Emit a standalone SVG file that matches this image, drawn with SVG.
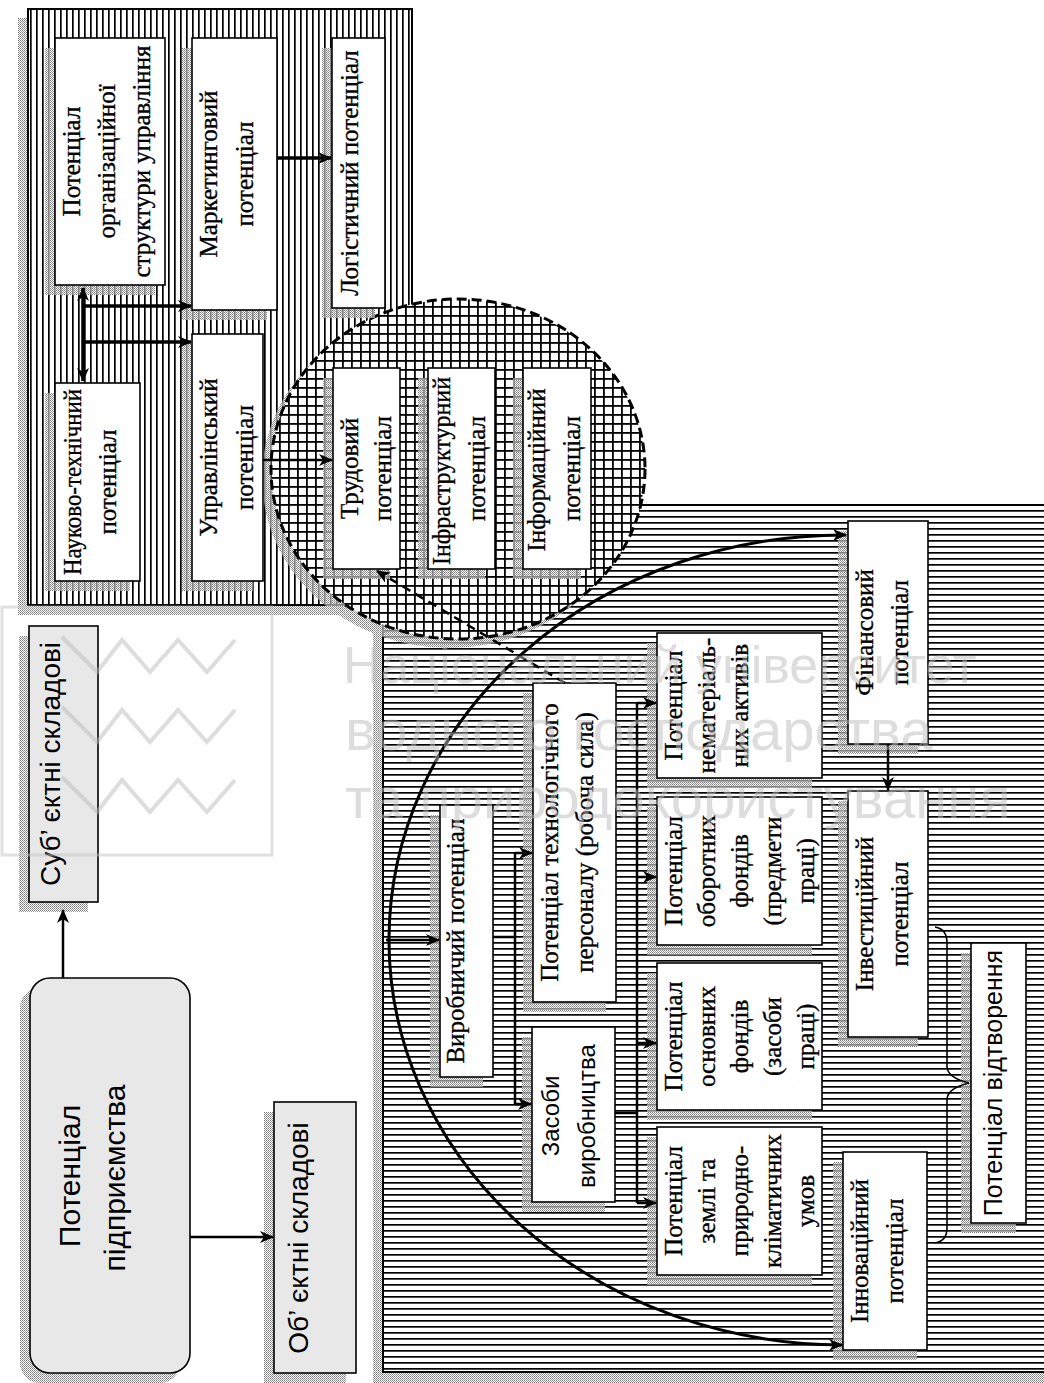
<svg xmlns="http://www.w3.org/2000/svg" width="1044" height="1383" viewBox="0 0 1044 1383">
  <style>
    .box { fill: #fff; stroke: #000; stroke-width: 1.6; }
    .gbox { fill: #e8e8e8; stroke: #000; stroke-width: 1.6; }
    .sh { fill: url(#stip); stroke: none; }
    .t { font-family: "Liberation Serif", "Times New Roman", serif; font-size: 25px; text-anchor: middle; fill: #000; stroke: #000; stroke-width: 0.35; }
    .s { font-family: "Liberation Sans", Arial, sans-serif; font-size: 28px; text-anchor: middle; fill: #000; }
    .s2 { font-family: "Liberation Sans", Arial, sans-serif; font-size: 24px; text-anchor: middle; fill: #000; }
    .ln { fill: none; stroke: #000; stroke-width: 2.5; }
    .thick { stroke-width: 3.5; }
    .arr { marker-end: url(#ah); }
    .wm { font-family: "Liberation Sans", Arial, sans-serif; font-size: 58px; fill: #bdbdbd; }
  </style>
  <defs>
    <pattern id="vh" width="6" height="6" patternUnits="userSpaceOnUse">
      <rect width="6" height="6" fill="#fff"/>
      <rect x="0" width="1.7" height="6" fill="#000"/>
    </pattern>
    <pattern id="hh" width="6" height="6" patternUnits="userSpaceOnUse">
      <rect width="6" height="6" fill="#fff"/>
      <rect y="0" width="6" height="1.7" fill="#000"/>
    </pattern>
    <pattern id="xh" width="9" height="9" patternUnits="userSpaceOnUse">
      <rect width="9" height="9" fill="#fff"/>
      <rect x="0" width="1.8" height="9" fill="#000"/>
      <rect y="0" width="9" height="1.8" fill="#000"/>
    </pattern>
    <pattern id="stip" width="2" height="2" patternUnits="userSpaceOnUse">
      <rect width="2" height="2" fill="#fff" fill-opacity="0.55"/>
      <rect width="1" height="1" fill="#7a7a7a"/>
      <rect x="1" y="1" width="1" height="1" fill="#9a9a9a"/>
    </pattern>
    <marker id="ah" markerUnits="userSpaceOnUse" viewBox="0 0 14 12" markerWidth="14" markerHeight="12" refX="13" refY="6" orient="auto-start-reverse">
      <path d="M0,0 L14,6 L0,12 L4,6 z" fill="#000"/>
    </marker>
  </defs>

  <rect width="1044" height="1383" fill="#fff"/>

  <!-- hatched background panels -->
  <g id="panel-subjective">
    <rect class="sh" x="18" y="18" width="384" height="597"/>
    <rect x="28" y="9" width="384" height="596" fill="url(#vh)" stroke="#000" stroke-width="2"/>
  </g>
  <g id="panel-objective">
    <rect class="sh" x="373" y="515" width="680" height="868"/>
    <rect x="383" y="505" width="670" height="867" fill="url(#hh)" stroke="#000" stroke-width="2"/>
  </g>
  <g id="panel-core">
    <ellipse class="sh" cx="449" cy="478" rx="187" ry="170"/>
    <ellipse cx="458" cy="469" rx="187" ry="170" fill="url(#xh)" stroke="#000" stroke-width="3" stroke-dasharray="10 5"/>
  </g>

  <!-- top level -->
  <g id="subjective">
    <rect class="sh" x="19" y="636" width="69" height="276"/>
    <rect class="gbox" x="29" y="626" width="69" height="276"/>
    <text class="s" transform="translate(60 764) rotate(-90)">Суб’ єктні складові</text>
  </g>
  <g id="enterprise">
    <rect class="sh" x="20" y="988" width="160" height="395" rx="20"/>
    <rect class="gbox" x="30" y="978" width="160" height="395" rx="20"/>
    <text class="s" style="font-size:30px" transform="translate(80 1176) rotate(-90)">Потенціал</text>
    <text class="s" style="font-size:30px" transform="translate(125 1178) rotate(-90)">підприємства</text>
  </g>
  <g id="objective">
    <rect class="sh" x="264" y="1112" width="82" height="272"/>
    <rect class="gbox" x="274" y="1102" width="82" height="271"/>
    <text class="s" transform="translate(308 1238) rotate(-90)">Об’ єктні складові</text>
  </g>

  <!-- subjective components -->
  <g id="org-structure">
    <rect class="sh" x="45" y="48" width="110" height="247"/>
    <rect class="box" x="55" y="38" width="110" height="247"/>
    <text class="t" transform="translate(80 161.5) rotate(-90)">Потенціал</text>
    <text class="t" transform="translate(115 161.5) rotate(-90)">організаційної</text>
    <text class="t" transform="translate(150 161.5) rotate(-90)" textLength="232" lengthAdjust="spacingAndGlyphs">структури управління</text>
  </g>
  <g id="marketing">
    <rect class="sh" x="182" y="48" width="85" height="272"/>
    <rect class="box" x="192" y="38" width="85" height="272"/>
    <text class="t" transform="translate(217 174) rotate(-90)">Маркетинговий</text>
    <text class="t" transform="translate(253 174) rotate(-90)">потенціал</text>
  </g>
  <g id="logistics">
    <rect class="sh" x="322" y="48" width="53" height="270"/>
    <rect class="box" x="332" y="38" width="53" height="270"/>
    <text class="t" transform="translate(358 173) rotate(-90)">Логістичний потенціал</text>
  </g>
  <g id="sci-tech">
    <rect class="sh" x="45" y="393" width="85" height="198"/>
    <rect class="box" x="55" y="383" width="85" height="198"/>
    <text class="t" transform="translate(81 482) rotate(-90)" textLength="186" lengthAdjust="spacingAndGlyphs">Науково-технічний</text>
    <text class="t" transform="translate(116 482) rotate(-90)">потенціал</text>
  </g>
  <g id="management">
    <rect class="sh" x="182" y="344" width="71" height="247"/>
    <rect class="box" x="192" y="334" width="71" height="247"/>
    <text class="t" transform="translate(217 457.5) rotate(-90)">Управлінський</text>
    <text class="t" transform="translate(253 457.5) rotate(-90)">потенціал</text>
  </g>
  <g id="labour">
    <rect class="sh" x="323" y="378" width="67" height="201"/>
    <rect class="box" x="333" y="368" width="67" height="201"/>
    <text class="t" transform="translate(358 468.5) rotate(-90)">Трудовий</text>
    <text class="t" transform="translate(391 468.5) rotate(-90)">потенціал</text>
  </g>
  <g id="infrastructure">
    <rect class="sh" x="418" y="378" width="67" height="201"/>
    <rect class="box" x="428" y="368" width="67" height="201"/>
    <text class="t" transform="translate(450 471) rotate(-90)" textLength="188" lengthAdjust="spacingAndGlyphs">Інфраструктурний</text>
    <text class="t" transform="translate(485 468.5) rotate(-90)">потенціал</text>
  </g>
  <g id="information">
    <rect class="sh" x="513" y="378" width="68" height="201"/>
    <rect class="box" x="523" y="368" width="68" height="201"/>
    <text class="t" transform="translate(545 470) rotate(-90)">Інформаційний</text>
    <text class="t" transform="translate(580 468.5) rotate(-90)">потенціал</text>
  </g>

  <!-- objective components -->
  <g id="production">
    <rect class="sh" x="430" y="815" width="53" height="272"/>
    <rect class="box" x="440" y="805" width="53" height="272"/>
    <text class="t" transform="translate(464 941) rotate(-90)">Виробничий потенціал</text>
  </g>
  <g id="personnel">
    <rect class="sh" x="523" y="693" width="83" height="319"/>
    <rect class="box" x="533" y="683" width="83" height="319"/>
    <text class="t" transform="translate(558 842.5) rotate(-90)">Потенціал технологічного</text>
    <text class="t" transform="translate(593 842.5) rotate(-90)">персоналу (робоча сила)</text>
  </g>
  <g id="means">
    <rect class="sh" x="522" y="1037" width="83" height="175"/>
    <rect class="box" x="532" y="1027" width="83" height="175"/>
    <text class="s2" transform="translate(559 1116) rotate(-90)">Засоби</text>
    <text class="s2" transform="translate(595 1116) rotate(-90)">виробництва</text>
  </g>
  <g id="intangible">
    <rect class="sh" x="647" y="643" width="165" height="145"/>
    <rect class="box" x="657" y="633" width="165" height="145"/>
    <text class="t" transform="translate(682 705.5) rotate(-90)">Потенціал</text>
    <text class="t" transform="translate(715 705.5) rotate(-90)">нематеріаль-</text>
    <text class="t" transform="translate(748 705.5) rotate(-90)">них активів</text>
  </g>
  <g id="working-funds">
    <rect class="sh" x="647" y="807" width="165" height="148"/>
    <rect class="box" x="657" y="797" width="165" height="148"/>
    <text class="t" transform="translate(682 871) rotate(-90)">Потенціал</text>
    <text class="t" transform="translate(715 871) rotate(-90)">оборотних</text>
    <text class="t" transform="translate(748 871) rotate(-90)">фондів</text>
    <text class="t" transform="translate(781 871) rotate(-90)">(предмети</text>
    <text class="t" transform="translate(814 871) rotate(-90)">праці)</text>
  </g>
  <g id="fixed-funds">
    <rect class="sh" x="647" y="973" width="165" height="147"/>
    <rect class="box" x="657" y="963" width="165" height="147"/>
    <text class="t" transform="translate(682 1036.5) rotate(-90)">Потенціал</text>
    <text class="t" transform="translate(715 1036.5) rotate(-90)">основних</text>
    <text class="t" transform="translate(748 1036.5) rotate(-90)">фондів</text>
    <text class="t" transform="translate(781 1036.5) rotate(-90)">(засоби</text>
    <text class="t" transform="translate(814 1036.5) rotate(-90)">праці)</text>
  </g>
  <g id="land">
    <rect class="sh" x="647" y="1137" width="165" height="148"/>
    <rect class="box" x="657" y="1127" width="165" height="148"/>
    <text class="t" transform="translate(682 1201) rotate(-90)">Потенціал</text>
    <text class="t" transform="translate(715 1201) rotate(-90)">землі та</text>
    <text class="t" transform="translate(748 1201) rotate(-90)">природно-</text>
    <text class="t" transform="translate(781 1201) rotate(-90)">кліматичних</text>
    <text class="t" transform="translate(814 1201) rotate(-90)">умов</text>
  </g>
  <g id="financial">
    <rect class="sh" x="838" y="531" width="80" height="223"/>
    <rect class="box" x="848" y="521" width="80" height="223"/>
    <text class="t" transform="translate(873 632.5) rotate(-90)">Фінансовий</text>
    <text class="t" transform="translate(908 632.5) rotate(-90)">потенціал</text>
  </g>
  <g id="investment">
    <rect class="sh" x="838" y="801" width="80" height="246"/>
    <rect class="box" x="848" y="791" width="80" height="246"/>
    <text class="t" transform="translate(873 914) rotate(-90)">Інвестиційний</text>
    <text class="t" transform="translate(908 914) rotate(-90)">потенціал</text>
  </g>
  <g id="innovation">
    <rect class="sh" x="833" y="1162" width="84" height="198"/>
    <rect class="box" x="843" y="1152" width="84" height="198"/>
    <text class="t" transform="translate(868 1251) rotate(-90)">Інноваційний</text>
    <text class="t" transform="translate(903 1251) rotate(-90)">потенціал</text>
  </g>
  <g id="reproduction">
    <rect class="sh" x="961" y="953" width="55" height="280"/>
    <rect class="box" x="971" y="943" width="55" height="280"/>
    <text class="s" style="font-size:25px" transform="translate(1002 1083) rotate(-90)">Потенціал відтворення</text>
  </g>

  <!-- connectors -->
  <g id="connectors">
    <path class="ln arr" d="M63,978 V910"/>
    <path class="ln arr" d="M190,1237 H273"/>
    <path class="ln thick arr" d="M83,381 V288" style="marker-start:url(#ah)"/>
    <path class="ln thick arr" d="M83,306 H191"/>
    <path class="ln thick arr" d="M83,342 H191"/>
    <path class="ln thick arr" d="M277,158 H331"/>
    <path class="ln arr" d="M263,460 H332"/>
    <path class="ln arr" d="M565,683 L377,571" stroke-dasharray="9 6"/>
    <path class="ln arr" d="M846,535 A455,405 0 0 0 842,1345" style="marker-start:url(#ah);stroke-width:3"/>
    <path class="ln arr" d="M386,940 H439"/>
    <path class="ln" d="M493,937 H515 M515,853 V1104"/>
    <path class="ln arr" d="M515,853 H532"/>
    <path class="ln arr" d="M515,1104 H531"/>
    <path class="ln" d="M637,703 V1203 M615,1113 H637"/>
    <path class="ln arr" d="M637,703 H656"/>
    <path class="ln arr" d="M637,877 H656"/>
    <path class="ln arr" d="M637,1043 H656"/>
    <path class="ln arr" d="M637,1203 H656"/>
    <path class="ln arr" d="M888,744 V790"/>
    <path fill="none" stroke="#000" stroke-width="1.6" d="M935,927 Q947,929 947,943 L947,1067 Q948,1078 969,1083 Q948,1088 947,1099 L947,1228 Q947,1241 935,1243"/>
  </g>

  <!-- publisher watermark -->
  <g id="watermark" opacity="0.5">
    <rect x="2" y="607" width="270" height="248" fill="none" stroke="#c4c4c4" stroke-width="3"/>
    <g fill="none" stroke="#bdbdbd" stroke-width="4">
      <polyline points="62,637 97,672 122,640 150,672 178,640 207,672 235,640"/>
      <polyline points="62,707 97,742 122,710 150,742 178,710 207,742 235,710"/>
      <polyline points="62,777 97,812 122,780 150,812 178,780 207,812 235,780"/>
    </g>
    <text class="wm" x="343" y="683" style="font-size:52px">Національний університет</text>
    <text class="wm" x="345" y="750">водного господарства</text>
    <text class="wm" x="345" y="818">та природокористування</text>
  </g>
</svg>
